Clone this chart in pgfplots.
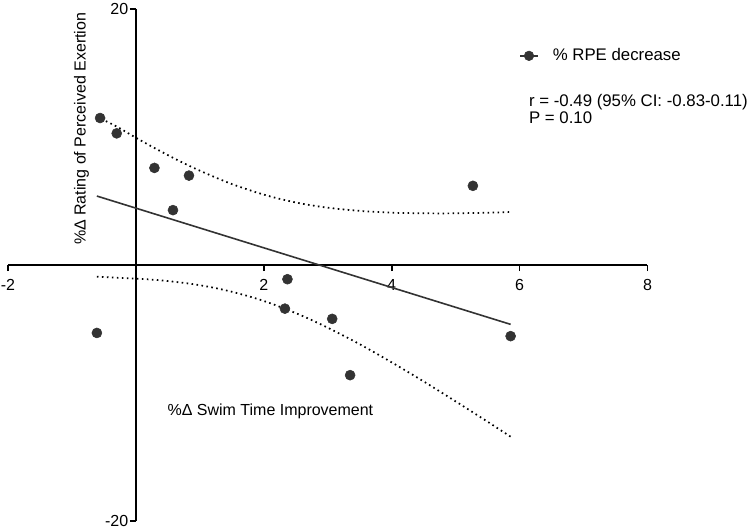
\documentclass[border=0pt]{standalone}
\usepackage{fontspec}
\setmainfont{Liberation Sans}
\usepackage{pgfplots}
\pgfplotsset{compat=1.18}
\definecolor{dk}{HTML}{333333}

\begin{document}
\fontsize{12}{14}\selectfont
\begin{tikzpicture}
\useasboundingbox (-6pt,-6pt) rectangle (558pt,390.75pt);
\begin{axis}[
  at={(0,0)}, anchor=south west,
  scale only axis, width=479.6pt, height=383.8pt,
  xmin=-2, xmax=8, ymin=-20, ymax=20,
  axis lines=middle,
  axis line style={-, line width=1.7pt, black},
  xtick={-2,2,4,6,8}, xticklabels={-2,2,4,6,8},
  ytick={-20,20}, yticklabels={-20,20},
  tick align=outside, major tick length=4.5pt,
  tick style={line width=1.3pt, black},
  xticklabel style={yshift=-2pt},
  yticklabel style={xshift=3pt},
  clip=false,
  font=\fontsize{12}{14}\selectfont,
  xlabel={\%Δ Swim Time Improvement},
  ylabel={\%Δ Rating of Perceived Exertion},
  every axis x label/.style={at={(axis cs:2.103,-11.77)}, anchor=base},
  every axis y label/.style={at={(axis cs:-0.849,10.65)}, rotate=90, anchor=center},
  legend style={draw=none, fill=none, at={(axis description cs:0.799,0.909)}, anchor=west, inner sep=0pt, font=\fontsize{12.6}{14}\selectfont},
  legend image code/.code={\draw[line width=1.2pt, dk] (0pt,0pt) -- (13.5pt,0pt); \fill[dk] (6.75pt,0pt) circle (3.6pt);},
]
\addplot[only marks, mark=*, mark size=3.75pt, dk, mark options={draw=dk, fill=dk}] coordinates {
(-0.56,11.5) (-0.30,10.3) (0.29,7.6) (0.83,7.0) (0.58,4.3) (5.27,6.2)
(-0.61,-5.3) (2.37,-1.1) (2.33,-3.4) (3.07,-4.2) (3.35,-8.6) (5.86,-5.55)
};
\addlegendentry{\hspace{8.5pt}\% RPE decrease}
\addplot[dk, line width=1.2pt, forget plot] coordinates {(-0.61,5.40) (5.86,-4.63)};
\addplot[black, line width=1.3pt, dash pattern=on 1.2pt off 2.55pt, forget plot, smooth] coordinates {
(-0.61,11.6) (-0.3,10.83) (0,9.96) (0.3,9.13) (0.6,8.34) (0.9,7.61) (1.2,6.95) (1.5,6.34) (1.87,5.71) (2.2,5.24) (2.6,4.80) (3.0,4.49) (3.5,4.24) (4.0,4.10) (4.5,4.05) (5.0,4.05) (5.5,4.10) (5.86,4.15)
};
\addplot[black, line width=1.3pt, dash pattern=on 1.2pt off 2.55pt, forget plot, smooth] coordinates {
(-0.61,-0.9) (-0.3,-0.99) (0,-1.06) (0.3,-1.15) (0.6,-1.30) (0.9,-1.49) (1.2,-1.75) (1.5,-2.08) (1.87,-2.59) (2.2,-3.16) (2.6,-3.96) (3.0,-4.89) (3.5,-6.18) (4.0,-7.60) (4.5,-9.09) (5.0,-10.65) (5.5,-12.24) (5.86,-13.41)
};
\node[anchor=base west, inner sep=0pt, font=\fontsize{12.6}{14}\selectfont] at (axis cs:6.145,12.37) {r = -0.49 (95\% CI: -0.83-0.11)};
\node[anchor=base west, inner sep=0pt, font=\fontsize{12.6}{14}\selectfont] at (axis cs:6.145,11.09) {P = 0.10};
\end{axis}
\end{tikzpicture}
\end{document}
